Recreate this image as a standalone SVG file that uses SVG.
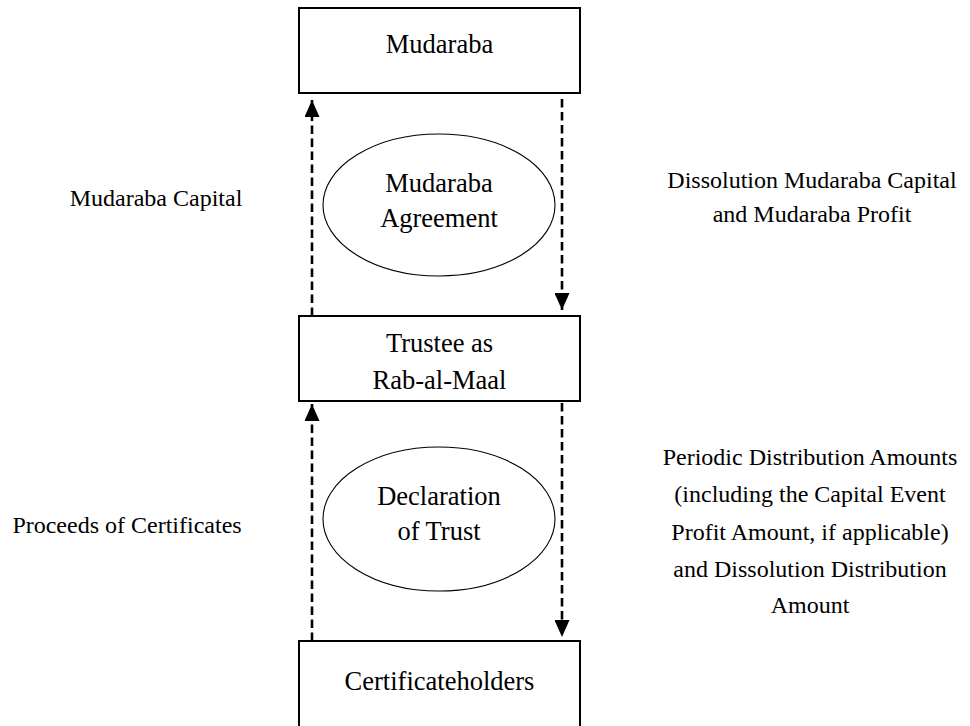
<svg xmlns="http://www.w3.org/2000/svg" width="970" height="726" viewBox="0 0 970 726">
<style>
.box{fill:#fff;stroke:#000;stroke-width:2}
.ell{fill:#fff;stroke:#000;stroke-width:1.1}
.t{font-family:"Liberation Serif","Times New Roman",serif;fill:#000;text-anchor:middle}
.nt{font-size:26.5px}
.st{font-size:24px}
.flow{fill:none;stroke:#000;stroke-width:2.6;stroke-dasharray:8.5,4.5}
</style>
<defs>
<marker id="ah" markerUnits="userSpaceOnUse" markerWidth="17" markerHeight="15" refX="17" refY="7.5" orient="auto">
<path d="M0,0 L17,7.5 L0,15 z" fill="#000" stroke="none"/>
</marker>
</defs>
<rect width="970" height="726" fill="#fff"/>
<g id="connectors">
<path class="flow" d="M312,316 L312,100" marker-end="url(#ah)"/>
<path class="flow" d="M562,99 L562,310" marker-end="url(#ah)"/>
<path class="flow" d="M312,641 L312,404" marker-end="url(#ah)"/>
<path class="flow" d="M562,403 L562,637" marker-end="url(#ah)"/>
</g>
<g id="mudaraba">
<rect class="box" x="299" y="8" width="281" height="85"/>
<text class="t nt" x="439.5" y="53">Mudaraba</text>
</g>
<g id="mudaraba-agreement">
<ellipse class="ell" cx="439" cy="205" rx="116" ry="71"/>
<text class="t nt" x="439" y="192">Mudaraba</text>
<text class="t nt" x="439" y="227">Agreement</text>
</g>
<g id="trustee">
<rect class="box" x="299" y="316" width="281" height="85"/>
<text class="t nt" x="439.5" y="352">Trustee as</text>
<text class="t nt" x="439.5" y="389">Rab-al-Maal</text>
</g>
<g id="declaration-of-trust">
<ellipse class="ell" cx="439" cy="519" rx="116" ry="72"/>
<text class="t nt" x="439" y="505">Declaration</text>
<text class="t nt" x="439" y="540">of Trust</text>
</g>
<g id="certificateholders">
<rect class="box" x="299" y="641" width="281" height="95"/>
<text class="t nt" x="439.5" y="690">Certificateholders</text>
</g>
<g id="labels">
<text class="t st" x="156" y="206">Mudaraba Capital</text>
<text class="t st" x="812" y="188">Dissolution Mudaraba Capital</text>
<text class="t st" x="812" y="222">and Mudaraba Profit</text>
<text class="t st" x="127" y="533">Proceeds of Certificates</text>
<text class="t st" x="810" y="465">Periodic Distribution Amounts</text>
<text class="t st" x="810" y="502">(including the Capital Event</text>
<text class="t st" x="810" y="540">Profit Amount, if applicable)</text>
<text class="t st" x="810" y="577">and Dissolution Distribution</text>
<text class="t st" x="810" y="613">Amount</text>
</g>
</svg>
